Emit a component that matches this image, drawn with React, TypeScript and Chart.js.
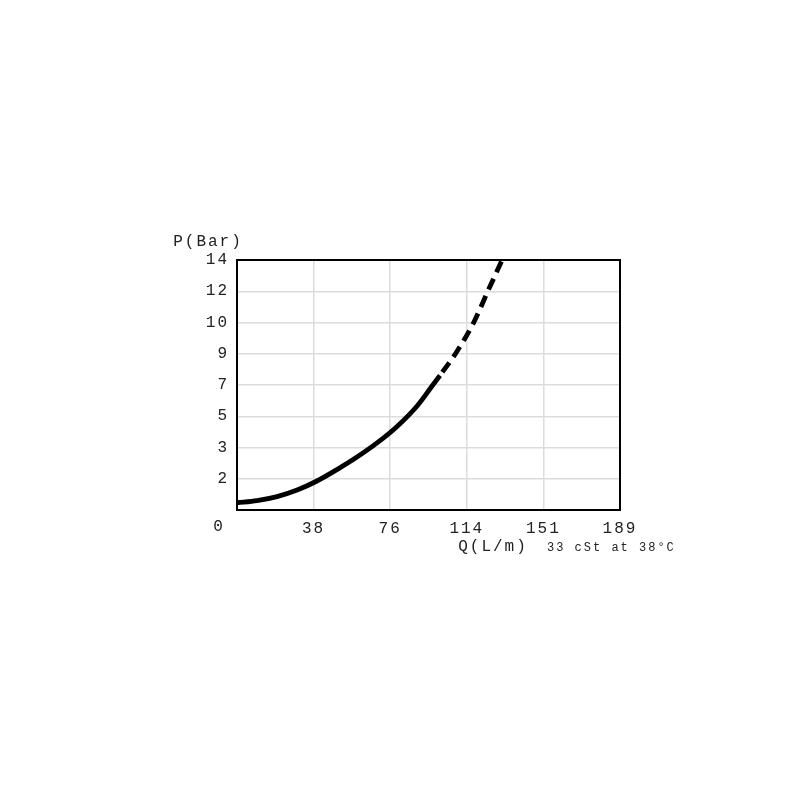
import React, { useEffect, useRef } from "react";
import { Chart, registerables } from "chart.js";

Chart.register(...registerables);

// Flow Q in L/m, pressure P in bar
const SOLID_Q = [0, 9.9, 19.8, 29.7, 39.5, 49.4, 59.3, 69.2, 79.1, 89.0, 96.4, 100.3];
const SOLID_P = [0.4, 0.52, 0.74, 1.1, 1.6, 2.23, 2.92, 3.7, 4.61, 5.74, 6.84, 7.42];
const DASHED_Q = [100.3, 108.2, 117.1, 124.0, 131.0];
const DASHED_P = [7.42, 8.66, 10.37, 12.08, 13.79];

const X_TICKS = [0, 37.85, 75.71, 113.56, 151.42, 189.27];
const X_TICK_LABELS = ["", "38", "76", "114", "151", "189"];
const Y_TICKS = [0, 1.724, 3.447, 5.171, 6.895, 8.618, 10.342, 12.066, 13.79];
const Y_TICK_LABELS = ["", "2", "3", "5", "7", "9", "10", "12", "14"];

const ORIGIN_LABEL = "0";
const Y_TITLE = "P(Bar)";
const X_TITLE = "Q(L/m)";
const NOTE = "33 cSt at 38°C";

const FONT = "'Liberation Mono', 'Courier New', monospace";

export default function App() {
  const ref = useRef<HTMLCanvasElement | null>(null);

  useEffect(() => {
    const canvas = ref.current;
    if (!canvas) return;

    const spacingPlugin = {
      id: "spacing",
      beforeLayout(chart: any) {
        (chart.ctx as any).letterSpacing = "2px";
      },
      beforeDraw(chart: any) {
        (chart.ctx as any).letterSpacing = "2px";
      },
    };

    const decorPlugin = {
      id: "decor",
      afterDraw(chart: any) {
        const { ctx, chartArea } = chart;
        const { left, right, top, bottom } = chartArea;
        ctx.save();
        ctx.strokeStyle = "#000";
        ctx.lineWidth = 2;
        ctx.strokeRect(left, top, right - left, bottom - top);

        ctx.fillStyle = "#222";
        (ctx as any).letterSpacing = "2px";
        ctx.font = `16px ${FONT}`;
        ctx.textBaseline = "middle";
        ctx.textAlign = "center";
        ctx.fillText(Y_TITLE, left - 29, top - 18);
        ctx.fillText(ORIGIN_LABEL, left - 18, bottom + 17);
        ctx.fillText(X_TITLE, left + 256, bottom + 37);
        (ctx as any).letterSpacing = "2px";
        ctx.font = `12px ${FONT}`;
        ctx.textAlign = "left";
        ctx.fillText(NOTE, left + 310, bottom + 38);
        ctx.restore();
      },
    };

    const chart = new Chart(canvas, {
      type: "line",
      data: {
        datasets: [
          {
            data: SOLID_Q.map((q, i) => ({ x: q, y: SOLID_P[i] })),
            borderColor: "#000",
            borderWidth: 4.8,
            pointRadius: 0,
            cubicInterpolationMode: "monotone",
            borderCapStyle: "butt",
          },
          {
            data: DASHED_Q.map((q, i) => ({ x: q, y: DASHED_P[i] })),
            borderColor: "#000",
            borderWidth: 4.8,
            borderDash: [12, 7],
            borderDashOffset: -4,
            pointRadius: 0,
            cubicInterpolationMode: "monotone",
            borderCapStyle: "butt",
          },
        ],
      },
      options: {
        responsive: false,
        animation: false,
        events: [],
        layout: { padding: { left: 0, top: 260, right: 180, bottom: 0 } },
        plugins: {
          legend: { display: false },
          tooltip: { enabled: false },
          title: { display: false },
        },
        scales: {
          x: {
            type: "linear",
            min: X_TICKS[0],
            max: X_TICKS[X_TICKS.length - 1],
            afterBuildTicks: (scale: any) => {
              scale.ticks = X_TICKS.map((v) => ({ value: v }));
            },
            afterFit: (scale: any) => {
              scale.height = 290;
            },
            border: { display: false },
            grid: { color: "#dcdcdc", lineWidth: 1.5, drawTicks: false },
            ticks: {
              autoSkip: false,
              maxRotation: 0,
              padding: 9,
              color: "#222",
              font: { family: FONT, size: 16 },
              callback: (_v: any, i: number) => X_TICK_LABELS[i],
            },
          },
          y: {
            type: "linear",
            min: Y_TICKS[0],
            max: Y_TICKS[Y_TICKS.length - 1],
            afterBuildTicks: (scale: any) => {
              scale.ticks = Y_TICKS.map((v) => ({ value: v }));
            },
            afterFit: (scale: any) => {
              scale.width = 237;
            },
            border: { display: false },
            grid: { color: "#dcdcdc", lineWidth: 1.5, drawTicks: false },
            ticks: {
              autoSkip: false,
              padding: 8,
              color: "#222",
              font: { family: FONT, size: 16 },
              callback: (_v: any, i: number) => Y_TICK_LABELS[i],
            },
          },
        },
      },
      plugins: [spacingPlugin, decorPlugin],
    } as any);

    return () => chart.destroy();
  }, []);

  return (
    <div style={{ position: "absolute", left: 0, top: 0, width: 800, height: 800, background: "#fff" }}>
      <canvas ref={ref} width={800} height={800} />
    </div>
  );
}
